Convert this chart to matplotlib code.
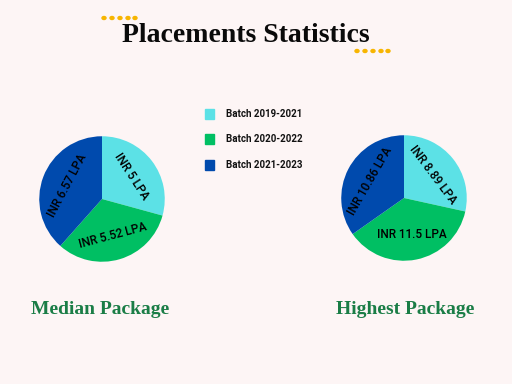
import numpy as np
import matplotlib.pyplot as plt
from matplotlib.patches import Rectangle, Circle

# Data
batches = ['Batch 2019-2021', 'Batch 2020-2022', 'Batch 2021-2023']
median_pkg = [5, 5.52, 6.57]
highest_pkg = [8.89, 11.5, 10.86]
median_labels = ['INR 5 LPA', 'INR 5.52 LPA', 'INR 6.57 LPA']
highest_labels = ['INR 8.89 LPA', 'INR 11.5 LPA', 'INR 10.86 LPA']
colors = ['#5ce1e6', '#00bf63', '#004aad']
bg = '#fdf5f5'

W, H = 512, 384
fig = plt.figure(figsize=(W / 100, H / 100), dpi=100, facecolor=bg)


def px(x, y):
    return x / W, 1 - y / H


def draw_pie(cx, cy, r, values, labels, rotations):
    ax = fig.add_axes([(cx - r) / W, (H - cy - r) / H, 2 * r / W, 2 * r / H])
    wedges, _ = ax.pie(values, colors=colors, startangle=90, counterclock=False,
                       radius=1, wedgeprops=dict(linewidth=0))
    for w, lab, rot in zip(wedges, labels, rotations):
        mid = np.deg2rad((w.theta1 + w.theta2) / 2)
        ax.text(0.6 * np.cos(mid), 0.6 * np.sin(mid), lab, rotation=rot,
                ha='center', va='center', fontsize=8.5, color='black',
                family='Roboto', fontweight='medium', rotation_mode='anchor')
    ax.set_xlim(-1.02, 1.02)
    ax.set_ylim(-1.02, 1.02)
    ax.set_aspect('equal')
    ax.axis('off')


draw_pie(102, 199, 64, median_pkg, median_labels, [-57, 15, 62])
draw_pie(404, 198, 64, highest_pkg, highest_labels, [-53, 0, 60])

# Title and decorative dots
fig.text(*px(246, 36), 'Placements Statistics', ha='center', va='center',
         fontsize=20, fontweight='bold', family='Liberation Serif', color='#0a0a0a')
for x in [104, 112, 120, 128, 135]:
    fig.patches.append(Circle(px(x, 18), 2 / W, transform=fig.transFigure,
                              color='#f7b500'))
for x in [357, 365, 373, 381, 388]:
    fig.patches.append(Circle(px(x, 51), 2 / W, transform=fig.transFigure,
                              color='#f7b500'))

# Legend
for i, (name, c) in enumerate(zip(batches, colors)):
    y = [114, 139, 165][i]
    fig.patches.append(Rectangle(px(205, y + 5), 9 / W, 10 / H,
                                 transform=fig.transFigure, color=c))
    fig.text(*px(226, y), name, ha='left', va='center', fontsize=7,
             fontweight='bold', family='Roboto', color='#111111')

# Bottom captions
fig.text(*px(100, 309), 'Median Package', ha='center', va='center',
         fontsize=14, fontweight='bold', family='Liberation Serif', color='#1a7d46')
fig.text(*px(405, 309), 'Highest Package', ha='center', va='center',
         fontsize=14, fontweight='bold', family='Liberation Serif', color='#1a7d46')

fig.savefig('out.png', dpi=100, facecolor=bg)
